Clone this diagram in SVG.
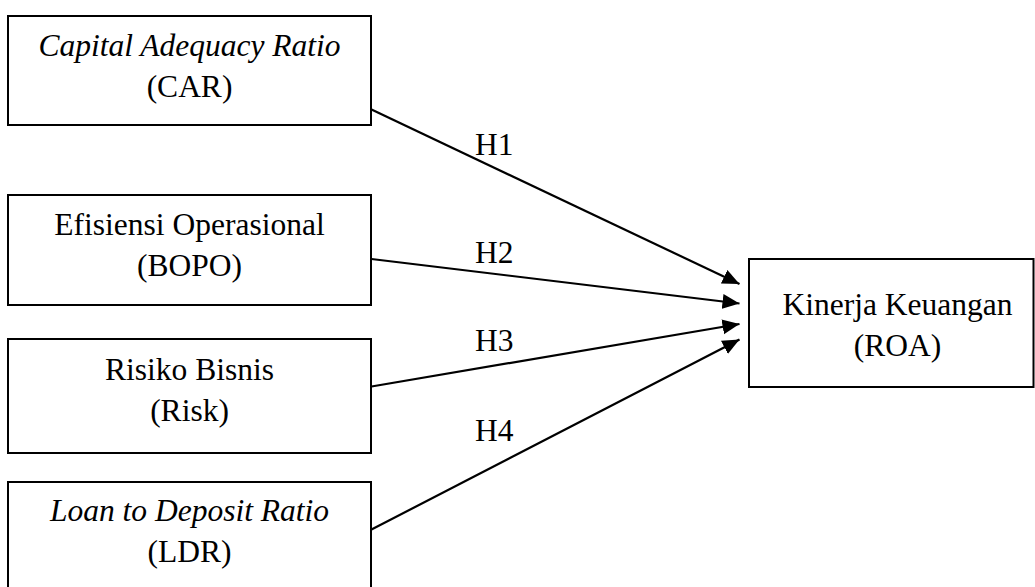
<svg xmlns="http://www.w3.org/2000/svg" width="1035" height="587" viewBox="0 0 1035 587">
<style>
.box{fill:#fff;stroke:#000;stroke-width:2}
.t{font-family:'Liberation Serif',Tinos,'Times New Roman','DejaVu Serif',serif;font-size:31.5px;fill:#000;text-anchor:middle}
.lbl{font-family:'Liberation Serif',Tinos,'Times New Roman','DejaVu Serif',serif;font-size:31.5px;fill:#000}
.i{font-style:italic}
.c{stroke:#000;stroke-width:2.2;fill:none;marker-end:url(#ah)}
</style>
<defs>
<marker id="ah" markerUnits="userSpaceOnUse" markerWidth="18" markerHeight="16" refX="17" refY="7.5" orient="auto">
<path d="M0,0 L17,7.5 L0,15 Z" fill="#000"/>
</marker>
</defs>
<rect width="1035" height="587" fill="#fff"/>
<g id="connectors">
<line class="c" x1="371.5" y1="109.5" x2="739.5" y2="284"/>
<line class="c" x1="371.5" y1="259" x2="739.5" y2="303.5"/>
<line class="c" x1="371.5" y1="386.5" x2="739.5" y2="324"/>
<line class="c" x1="371.5" y1="529.5" x2="739.5" y2="339.5"/>
<text class="lbl" x="475" y="155">H1</text>
<text class="lbl" x="475" y="263">H2</text>
<text class="lbl" x="475" y="351">H3</text>
<text class="lbl" x="475" y="441">H4</text>
</g>
<g id="car">
<rect class="box" x="8" y="16" width="363" height="109"/>
<text class="t i" x="189.5" y="56">Capital Adequacy Ratio</text>
<text class="t" x="189.5" y="97">(CAR)</text>
</g>
<g id="bopo">
<rect class="box" x="8" y="195" width="363" height="110"/>
<text class="t" x="189.5" y="235">Efisiensi Operasional</text>
<text class="t" x="189.5" y="276">(BOPO)</text>
</g>
<g id="risk">
<rect class="box" x="8" y="339" width="363" height="114"/>
<text class="t" x="189.5" y="380">Risiko Bisnis</text>
<text class="t" x="189.5" y="421">(Risk)</text>
</g>
<g id="ldr">
<rect class="box" x="8" y="482" width="363" height="120"/>
<text class="t i" x="189.5" y="521">Loan to Deposit Ratio</text>
<text class="t" x="189.5" y="562">(LDR)</text>
</g>
<g id="roa">
<rect class="box" x="749" y="259" width="284.5" height="128"/>
<text class="t" x="897.5" y="315">Kinerja Keuangan</text>
<text class="t" x="897.5" y="356">(ROA)</text>
</g>
</svg>
